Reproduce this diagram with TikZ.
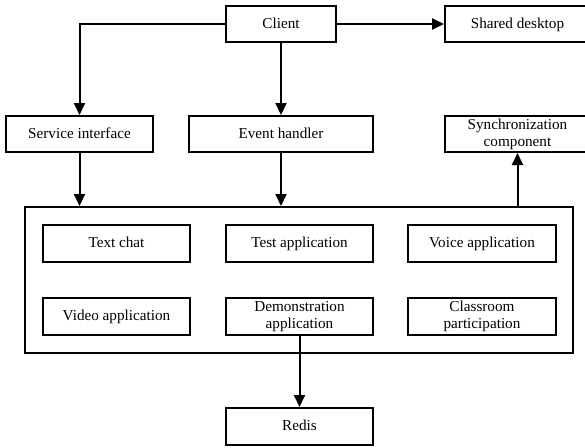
\documentclass[tikz,border=0pt]{standalone}
\usepackage{fontspec}
\setmainfont{Liberation Serif}
\usetikzlibrary{arrows.meta}
\begin{document}
\begin{tikzpicture}[x=1pt,y=-1pt,
  every node/.style={font=\fontsize{15.2}{17}\selectfont},
  box/.style={draw, line width=2pt, inner sep=0pt, align=center, minimum height=36pt, minimum width=147pt},
  one/.style={text height=11.5pt, text depth=3pt},
  conn/.style={line width=2pt, -{Triangle[length=12pt,width=11pt]}}]
\useasboundingbox (0,0) rectangle (585,447);
\clip (0,0) rectangle (585,447);
\node[box, one, minimum width=110pt] (client) at (281,24) {Client};
\node[box, one, minimum width=145pt] (shared) at (517.5,24) {Shared desktop};
\node[box, one] (service) at (79.5,134) {Service interface};
\node[box, one, minimum width=184pt] (event) at (281,134) {Event handler};
\node[box, minimum width=145pt] (sync) at (517.5,134) {Synchronization\\component};
\node[draw, line width=2pt, minimum width=548pt, minimum height=146pt, inner sep=0pt] (cont) at (299,280) {};
\node[box, one, minimum height=37pt] (text) at (116.5,243.5) {Text chat};
\node[box, one, minimum height=37pt] (test) at (299.5,243.5) {Test application};
\node[box, one, minimum height=37pt, minimum width=148pt] (voice) at (482,243.5) {Voice application};
\node[box, one, minimum height=37pt] (video) at (116.5,316.5) {Video application};
\node[box, minimum height=37pt] (demo) at (299.5,316.5) {Demonstration\\application};
\node[box, minimum height=37pt, minimum width=148pt] (class) at (482,316.5) {Classroom\\participation};
\node[box, one, minimum height=37pt] (redis) at (299.5,426.5) {Redis};
\draw[conn] (client.west) -| (service.north);
\draw[conn] (client.south) -- (event.north);
\draw[conn] (client.east) -- (shared.west);
\draw[conn] (service.south) -- (service.south |- cont.north);
\draw[conn] (event.south) -- (event.south |- cont.north);
\draw[conn] (sync.south |- cont.north) -- (sync.south);
\draw[conn] (demo.south) -- (redis.north);
\end{tikzpicture}
\end{document}
